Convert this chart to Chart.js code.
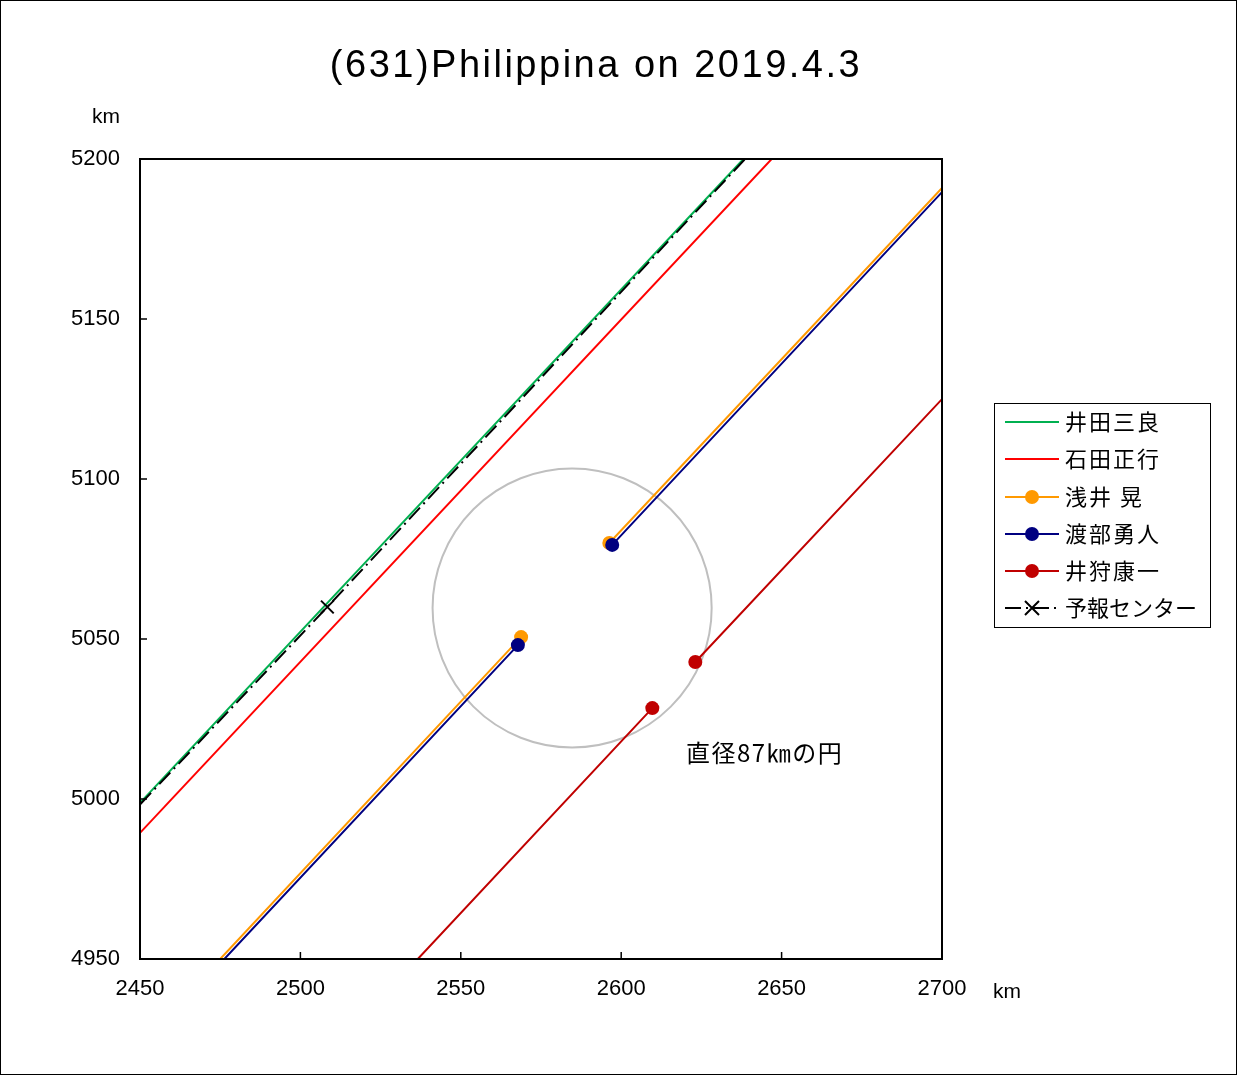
<!DOCTYPE html>
<html>
<head>
<meta charset="utf-8">
<script src="https://cdn.jsdelivr.net/npm/chart.js@4"></script>
<style>
  body { margin: 0; background: #fff; }
  #wrap { width: 1237px; height: 1075px; position: relative; }
</style>
</head>
<body>
<div id="wrap"><canvas id="occChart" width="1237" height="1075"></canvas></div>
<script>
// observers (chord lines, null = gap between the two halves)
const names = ['井田三良', '石田正行', '浅井 晃', '渡部勇人', '井狩康一', '予報センター'];
const colors = ['#00B050', '#FF0000', '#FF9900', '#000080', '#C00000', '#000000'];

const idaX = [2450, 2638.1];
const idaY = [4998.8, 5200];
const ishidaX = [2450, 2646.9];
const ishidaY = [4989.4, 5200];
const asaiX = [2475.0, 2568.8, null, 2596.3, 2700.6];
const asaiY = [4950, 5050.6, null, 5080.0, 5191.6];
const watanabeX = [2476.3, 2567.8, null, 2597.2, 2700.6];
const watanabeY = [4950, 5048.1, null, 5079.4, 5190.3];
const ikariX = [2536.6, 2609.7, null, 2623.1, 2700.6];
const ikariY = [4950, 5028.4, null, 5042.8, 5125.6];
const yohoX = [2450, 2508.4, 2638.6];
const yohoY = [4998.3, 5060, 5200];

// circle of 87 km diameter
const circleCenter = [2584.7, 5059.7];
const circleDiameter = 87;

const xTicks = [2450, 2500, 2550, 2600, 2650, 2700];
const yTicks = [4950, 5000, 5050, 5100, 5150, 5200];

function pts(xs, ys) {
  return xs.map((x, i) => ({ x: x, y: ys[i] }));
}

const JP = '"Noto Sans CJK JP", "Liberation Sans", sans-serif';
const NUM = '"Liberation Sans", Arial, sans-serif';

const extras = {
  id: 'extras',
  beforeDatasetsDraw(chart) {
    const c = chart.ctx, xs = chart.scales.x, ys = chart.scales.y;
    const cx = xs.getPixelForValue(circleCenter[0]);
    const cy = ys.getPixelForValue(circleCenter[1]);
    const r = xs.getPixelForValue(circleCenter[0] + circleDiameter / 2) - cx;
    c.save();
    c.strokeStyle = '#BFBFBF';
    c.lineWidth = 2;
    c.beginPath();
    c.arc(cx, cy, r, 0, Math.PI * 2);
    c.stroke();
    c.restore();
  },
  afterDraw(chart) {
    const c = chart.ctx, a = chart.chartArea, xs = chart.scales.x, ys = chart.scales.y;
    c.save();
    // plot frame
    c.strokeStyle = '#000';
    c.lineWidth = 2;
    c.strokeRect(a.left, a.top, a.right - a.left, a.bottom - a.top);
    // inner tick marks
    c.lineWidth = 1.5;
    c.beginPath();
    xTicks.forEach(v => {
      const p = xs.getPixelForValue(v);
      c.moveTo(p, a.bottom); c.lineTo(p, a.bottom - 7);
    });
    yTicks.forEach(v => {
      const p = ys.getPixelForValue(v);
      c.moveTo(a.left, p); c.lineTo(a.left + 7, p);
    });
    c.stroke();
    // outer border
    c.lineWidth = 1;
    c.strokeRect(0.5, 0.5, chart.width - 1, chart.height - 1);

    // title and units
    c.fillStyle = '#000';
    c.textBaseline = 'middle';
    c.textAlign = 'center';
    c.font = '38px ' + NUM;
    c.letterSpacing = '2.5px';
    c.fillText('(631)Philippina on 2019.4.3', 596, 67);
    c.letterSpacing = '0px';
    c.font = '21px ' + NUM;
    c.fillText('km', 106, 117);
    c.fillText('km', 1007, 992);

    // annotation
    c.textAlign = 'left';
    c.font = '24px ' + JP;
    c.letterSpacing = '1.5px';
    c.fillText('直径87㎞の円', 686, 753);

    // legend
    c.letterSpacing = '0px';
    c.lineWidth = 1;
    c.strokeStyle = '#000';
    c.strokeRect(994.5, 403.5, 216, 224);
    const rowY = [422, 459, 497, 534, 571, 608];
    names.forEach((n, i) => {
      const y = rowY[i];
      c.strokeStyle = colors[i];
      c.lineWidth = 2;
      if (i === 5) c.setLineDash([16, 5, 2, 5]);
      c.beginPath(); c.moveTo(1005, y); c.lineTo(1059, y); c.stroke();
      c.setLineDash([]);
      if (i >= 2 && i <= 4) {
        c.fillStyle = colors[i];
        c.beginPath(); c.arc(1032, y, 7, 0, Math.PI * 2); c.fill();
      }
      if (i === 5) {
        c.beginPath();
        c.moveTo(1025, y - 7); c.lineTo(1039, y + 7);
        c.moveTo(1039, y - 7); c.lineTo(1025, y + 7);
        c.stroke();
      }
      c.fillStyle = '#000';
      c.font = '22px ' + JP;
      c.letterSpacing = i < 5 ? '2px' : '0px';
      c.fillText(n, 1065, y);
    });
    c.restore();
  }
};

const ctx = document.getElementById('occChart').getContext('2d');
const occChart = new Chart(ctx, {
  type: 'scatter',
  data: {
    datasets: [
      { label: names[0], data: pts(idaX, idaY), borderColor: colors[0], pointRadius: 0, order: 10 },
      { label: names[1], data: pts(ishidaX, ishidaY), borderColor: colors[1], pointRadius: 0, order: 9 },
      { label: names[2], data: pts(asaiX, asaiY), borderColor: colors[2], backgroundColor: colors[2],
        pointRadius: [0, 7, 0, 7, 0], order: 8 },
      { label: names[3], data: pts(watanabeX, watanabeY), borderColor: colors[3], backgroundColor: colors[3],
        pointRadius: [0, 7, 0, 7, 0], order: 7 },
      { label: names[4], data: pts(ikariX, ikariY), borderColor: colors[4], backgroundColor: colors[4],
        pointRadius: [0, 7, 0, 7, 0], order: 6 },
      { label: names[5], data: pts(yohoX, yohoY), borderColor: colors[5], borderDash: [16, 5, 2, 5],
        pointStyle: 'crossRot', pointRadius: [0, 9, 0], pointBorderWidth: 2, order: 5 }
    ]
  },
  options: {
    responsive: false,
    animation: false,
    showLine: true,
    spanGaps: false,
    elements: { line: { borderWidth: 2, tension: 0 }, point: { borderWidth: 0, hoverRadius: 0 } },
    layout: { padding: { top: 159, right: 295, left: 0, bottom: 0 } },
    plugins: { legend: { display: false }, title: { display: false }, tooltip: { enabled: false } },
    scales: {
      x: {
        type: 'linear', min: 2450, max: 2700,
        afterBuildTicks: s => { s.ticks = xTicks.map(v => ({ value: v })); },
        afterFit: s => { s.height = 116; },
        grid: { display: false, drawTicks: false },
        border: { display: false },
        ticks: { padding: 17, color: '#000', font: { size: 22, family: NUM }, callback: v => String(v) }
      },
      y: {
        type: 'linear', min: 4950, max: 5200,
        afterBuildTicks: s => { s.ticks = yTicks.map(v => ({ value: v })); },
        afterFit: s => { s.width = 140; },
        grid: { display: false, drawTicks: false },
        border: { display: false },
        ticks: { padding: 20, color: '#000', font: { size: 22, family: NUM }, callback: v => String(v) }
      }
    }
  },
  plugins: [extras]
});
</script>
</body>
</html>
